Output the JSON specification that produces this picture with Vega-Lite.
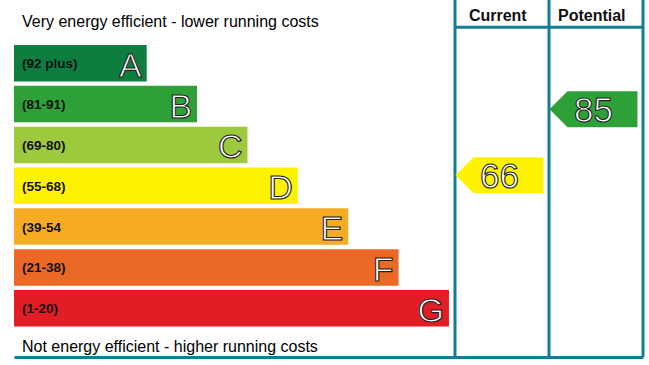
{
  "$schema": "https://vega.github.io/schema/vega-lite/v6.json",
  "width": 629,
  "height": 357,
  "autosize": {"type": "none"},
  "padding": {"left": 14, "right": 6, "top": 0, "bottom": 8},
  "background": "white",
  "config": {"view": {"stroke": null}, "font": "Liberation Sans"},
  "datasets": {
    "bands": [
      {"row": "A", "range": "(92 plus)", "rank": 1},
      {"row": "B", "range": "(81-91)", "rank": 2},
      {"row": "C", "range": "(69-80)", "rank": 3},
      {"row": "D", "range": "(55-68)", "rank": 4},
      {"row": "E", "range": "(39-54", "rank": 5},
      {"row": "F", "range": "(21-38)", "rank": 6},
      {"row": "G", "range": "(1-20)", "rank": 7}
    ],
    "columns": [{"col": "Current"}, {"col": "Potential"}],
    "ratings": [
      {"col": "Current", "score": 66, "band": "D"},
      {"col": "Potential", "score": 85, "band": "B"}
    ],
    "topCaption": [{"text": "Very energy efficient - lower running costs"}],
    "bottomCaption": [{"text": "Not energy efficient - higher running costs"}]
  },
  "resolve": {"scale": {"x": "independent", "y": "independent"}},
  "layer": [
    {
      "layer": [
        {
          "data": {"name": "bands"},
          "mark": {"type": "bar"},
          "encoding": {
            "x": {"field": "rank", "type": "quantitative",
                  "axis": {"domain": true, "domainColor": "#147d96", "domainWidth": 3, "labels": false, "ticks": false, "grid": false, "title": null, "orient": "bottom"},
                  "scale": {"type": "linear", "domain": [-1.634, 10.852], "zero": false, "nice": false}},
            "x2": {"datum": -1.634},
            "y": {"field": "row", "type": "nominal", "axis": null,
                  "scale": {"type": "band", "domain": ["hdr", "A", "B", "C", "D", "E", "F", "G"], "paddingInner": 0.106, "paddingOuter": 0.425, "align": 0.12}},
            "color": {"field": "row", "type": "nominal", "legend": null,
                      "scale": {"domain": ["A", "B", "C", "D", "E", "F", "G"],
                                "range": ["#0f7d3f", "#2da137", "#9dca3c", "#fff200", "#f6ab25", "#ec6825", "#e31d25"]}}
          }
        },
        {
          "data": {"name": "bands"},
          "mark": {"type": "text", "align": "left", "baseline": "alphabetic", "dx": 8, "fontSize": 13.5, "fontWeight": "bold", "fill": "#111111"},
          "encoding": {
            "x": {"datum": -1.634, "type": "quantitative",
                  "axis": {"domain": true, "domainColor": "#147d96", "domainWidth": 3, "labels": false, "ticks": false, "grid": false, "title": null, "orient": "bottom"},
                  "scale": {"type": "linear", "domain": [-1.634, 10.852], "zero": false, "nice": false}},
            "y": {"field": "row", "type": "nominal", "axis": null, "bandPosition": 0.64,
                  "scale": {"type": "band", "domain": ["hdr", "A", "B", "C", "D", "E", "F", "G"], "paddingInner": 0.106, "paddingOuter": 0.425, "align": 0.12}},
            "text": {"field": "range", "type": "nominal"}
          }
        },
        {
          "data": {"name": "bands"},
          "mark": {"type": "text", "align": "right", "baseline": "alphabetic", "dx": -5, "fontSize": 34, "fill": "white", "stroke": "#222222", "strokeWidth": 1.1},
          "encoding": {
            "x": {"field": "rank", "type": "quantitative",
                  "axis": {"domain": true, "domainColor": "#147d96", "domainWidth": 3, "labels": false, "ticks": false, "grid": false, "title": null, "orient": "bottom"},
                  "scale": {"type": "linear", "domain": [-1.634, 10.852], "zero": false, "nice": false}},
            "y": {"field": "row", "type": "nominal", "axis": null, "bandPosition": 0.87,
                  "scale": {"type": "band", "domain": ["hdr", "A", "B", "C", "D", "E", "F", "G"], "paddingInner": 0.106, "paddingOuter": 0.425, "align": 0.12}},
            "text": {"field": "row", "type": "nominal"}
          }
        },
        {
          "data": {"name": "topCaption"},
          "mark": {"type": "text", "align": "left", "baseline": "alphabetic", "dx": 8, "fontSize": 16, "fill": "#000000"},
          "encoding": {
            "x": {"datum": -1.634, "type": "quantitative",
                  "axis": {"domain": true, "domainColor": "#147d96", "domainWidth": 3, "labels": false, "ticks": false, "grid": false, "title": null, "orient": "bottom"},
                  "scale": {"type": "linear", "domain": [-1.634, 10.852], "zero": false, "nice": false}},
            "y": {"datum": "hdr", "type": "nominal", "axis": null, "bandPosition": 0.634,
                  "scale": {"type": "band", "domain": ["hdr", "A", "B", "C", "D", "E", "F", "G"], "paddingInner": 0.106, "paddingOuter": 0.425, "align": 0.12}},
            "text": {"field": "text", "type": "nominal"}
          }
        },
        {
          "data": {"name": "bottomCaption"},
          "mark": {"type": "text", "align": "left", "baseline": "alphabetic", "dx": 8, "fontSize": 16, "fill": "#000000"},
          "encoding": {
            "x": {"datum": -1.634, "type": "quantitative",
                  "axis": {"domain": true, "domainColor": "#147d96", "domainWidth": 3, "labels": false, "ticks": false, "grid": false, "title": null, "orient": "bottom"},
                  "scale": {"type": "linear", "domain": [-1.634, 10.852], "zero": false, "nice": false}},
            "y": {"datum": "G", "type": "nominal", "axis": null, "bandPosition": 1.7,
                  "scale": {"type": "band", "domain": ["hdr", "A", "B", "C", "D", "E", "F", "G"], "paddingInner": 0.106, "paddingOuter": 0.425, "align": 0.12}},
            "text": {"field": "text", "type": "nominal"}
          }
        }
      ]
    },
    {
      "layer": [
        {
          "data": {"name": "columns"},
          "mark": {"type": "rule", "color": "#147d96", "strokeWidth": 3},
          "encoding": {
            "x": {"field": "col", "type": "nominal", "bandPosition": 0, "axis": null,
                  "scale": {"type": "band", "domain": ["Current", "Potential"], "paddingInner": 0, "paddingOuter": 0, "range": [441, 629]}}
          }
        },
        {
          "data": {"values": [{"col": "Potential"}]},
          "mark": {"type": "rule", "color": "#147d96", "strokeWidth": 3},
          "encoding": {
            "x": {"field": "col", "type": "nominal", "bandPosition": 1, "axis": null,
                  "scale": {"type": "band", "domain": ["Current", "Potential"], "paddingInner": 0, "paddingOuter": 0, "range": [441, 629]}}
          }
        },
        {
          "data": {"values": [{"from": "Current", "to": "Potential", "row": "hdr"}]},
          "mark": {"type": "rule", "color": "#147d96", "strokeWidth": 3},
          "encoding": {
            "x": {"field": "from", "type": "nominal", "bandPosition": 0, "axis": null,
                  "scale": {"type": "band", "domain": ["Current", "Potential"], "paddingInner": 0, "paddingOuter": 0, "range": [441, 629]}},
            "x2": {"field": "to", "bandPosition": 1},
            "y": {"field": "row", "type": "nominal", "axis": null, "bandPosition": 0.634,
                  "scale": {"type": "band", "domain": ["hdr", "A", "B", "C", "D", "E", "F", "G"], "paddingInner": 0.106, "paddingOuter": 0.425, "align": 0.12}}
          }
        },
        {
          "data": {"name": "columns"},
          "mark": {"type": "text", "align": "center", "baseline": "alphabetic", "fontSize": 16, "fontWeight": "bold", "fill": "#111111"},
          "encoding": {
            "x": {"field": "col", "type": "nominal", "bandPosition": 0.455, "axis": null,
                  "scale": {"type": "band", "domain": ["Current", "Potential"], "paddingInner": 0, "paddingOuter": 0, "range": [441, 629]}},
            "y": {"datum": "hdr", "type": "nominal", "axis": null, "bandPosition": 0.46,
                  "scale": {"type": "band", "domain": ["hdr", "A", "B", "C", "D", "E", "F", "G"], "paddingInner": 0.106, "paddingOuter": 0.425, "align": 0.12}},
            "text": {"field": "col", "type": "nominal"}
          }
        }
      ]
    },
    {
      "layer": [
        {
          "data": {"name": "ratings"},
          "mark": {"type": "point", "shape": "M-1,0L-0.59,-0.409L1,-0.409L1,0.409L-0.59,0.409Z", "size": 7744, "filled": true, "opacity": 1, "strokeWidth": 0},
          "encoding": {
            "x": {"field": "col", "type": "nominal", "bandPosition": 0.473, "axis": null,
                  "scale": {"type": "band", "domain": ["Current", "Potential"], "paddingInner": 0, "paddingOuter": 0, "range": [441, 629]}},
            "y": {"field": "score", "type": "quantitative", "axis": null,
                  "scale": {"type": "linear", "domain": [13.67, 116.43], "zero": false, "nice": false}},
            "color": {"field": "band", "type": "nominal", "legend": null,
                      "scale": {"domain": ["A", "B", "C", "D", "E", "F", "G"],
                                "range": ["#0f7d3f", "#2da137", "#9dca3c", "#fff200", "#f6ab25", "#ec6825", "#e31d25"]}}
          }
        },
        {
          "data": {"name": "ratings"},
          "mark": {"type": "text", "align": "center", "baseline": "middle", "dy": 2, "fontSize": 35, "fill": "white", "stroke": "#222222", "strokeWidth": 1.1},
          "encoding": {
            "x": {"field": "col", "type": "nominal", "bandPosition": 0.473, "axis": null,
                  "scale": {"type": "band", "domain": ["Current", "Potential"], "paddingInner": 0, "paddingOuter": 0, "range": [441, 629]}},
            "y": {"field": "score", "type": "quantitative", "axis": null,
                  "scale": {"type": "linear", "domain": [13.67, 116.43], "zero": false, "nice": false}},
            "text": {"field": "score", "type": "quantitative"}
          }
        }
      ]
    }
  ]
}
